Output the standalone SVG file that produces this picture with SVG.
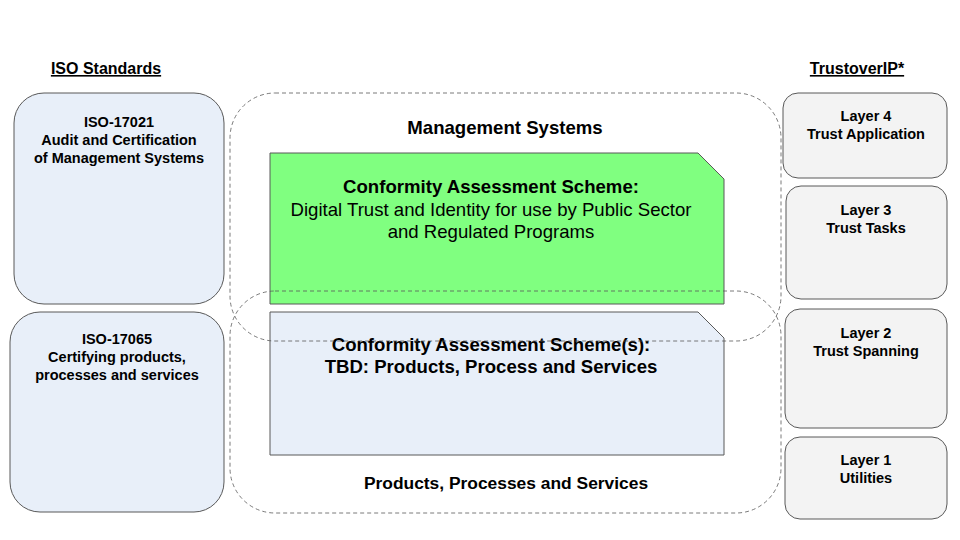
<svg xmlns="http://www.w3.org/2000/svg" width="960" height="540" viewBox="0 0 960 540">
<style>
text{font-family:"Liberation Sans",Arial,sans-serif;fill:#000;text-anchor:middle}
.b{font-weight:bold}
.h{font-size:16px;font-weight:bold;text-decoration:underline}
.s{font-size:14.5px;font-weight:bold}
.m{font-size:18.6px}
.iso{fill:#e8eff9;stroke:#595959;stroke-width:1}
.toip{fill:#f3f3f3;stroke:#595959;stroke-width:1}
.dash{fill:none;stroke:#595959;stroke-width:0.8;stroke-dasharray:4 3}
</style>
<rect width="960" height="540" fill="#fff"/>
<text class="h" x="106" y="74">ISO Standards</text>
<text class="h" x="857" y="74">TrustoverIP*</text>
<g id="iso17021">
<rect class="iso" x="14" y="93" width="210" height="211" rx="30"/>
<text class="s" x="119" y="127">ISO-17021</text>
<text class="s" x="119" y="145">Audit and Certification</text>
<text class="s" x="119" y="163">of Management Systems</text>
</g>
<g id="iso17065">
<rect class="iso" x="10" y="312" width="214" height="200" rx="30"/>
<text class="s" x="117" y="344">ISO-17065</text>
<text class="s" x="117" y="362">Certifying products,</text>
<text class="s" x="117" y="380">processes and services</text>
</g>
<g id="scheme-ms">
<path d="M270,153 H698 L724,179 V304 H270 Z" fill="#80ff80" stroke="#595959" stroke-width="1"/>
<text class="m b" x="491" y="193">Conformity Assessment Scheme:</text>
<text class="m" x="491" y="216">Digital Trust and Identity for use by Public Sector</text>
<text class="m" x="491" y="238">and Regulated Programs</text>
</g>
<g id="scheme-pps">
<path d="M270,312 H698 L724,338 V455 H270 Z" fill="#e8eff9" stroke="#595959" stroke-width="1"/>
<text class="m b" x="491" y="351">Conformity Assessment Scheme(s):</text>
<text class="m b" x="491" y="373">TBD: Products, Process and Services</text>
</g>
<g id="management-systems">
<rect class="dash" x="230" y="93" width="551" height="248" rx="45"/>
<text class="m b" x="505" y="134">Management Systems</text>
</g>
<g id="products-processes">
<rect class="dash" x="230" y="291" width="551" height="222" rx="45"/>
<text class="b" x="506" y="489" font-size="17.4">Products, Processes and Services</text>
</g>
<g id="layer4">
<rect class="toip" x="783" y="93" width="164" height="85" rx="15"/>
<text class="s" x="866" y="121">Layer 4</text>
<text class="s" x="866" y="139">Trust Application</text>
</g>
<g id="layer3">
<rect class="toip" x="786" y="186" width="161" height="113" rx="15"/>
<text class="s" x="866" y="215">Layer 3</text>
<text class="s" x="866" y="233">Trust Tasks</text>
</g>
<g id="layer2">
<rect class="toip" x="785" y="309" width="162" height="119" rx="15"/>
<text class="s" x="866" y="338">Layer 2</text>
<text class="s" x="866" y="356">Trust Spanning</text>
</g>
<g id="layer1">
<rect class="toip" x="785" y="437" width="162" height="82" rx="15"/>
<text class="s" x="866" y="465">Layer 1</text>
<text class="s" x="866" y="483">Utilities</text>
</g>
<g id="connectors"></g>
</svg>
